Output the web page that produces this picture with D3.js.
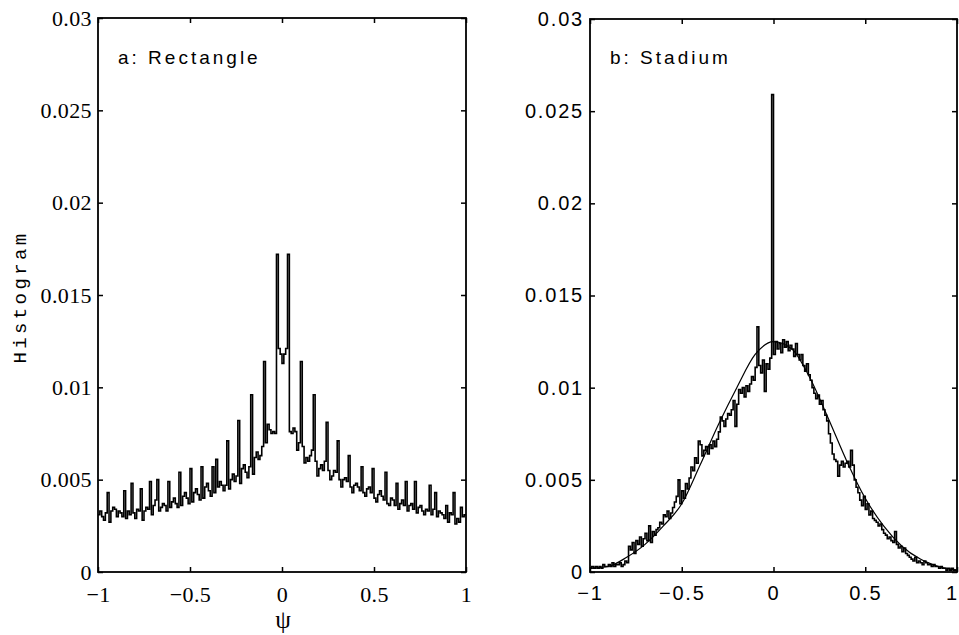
<!DOCTYPE html>
<html>
<head>
<meta charset="utf-8">
<script src="https://cdn.jsdelivr.net/npm/d3@7"></script>
<style>
  body { margin: 0; background: #fff; }
  svg { display: block; }
</style>
</head>
<body>
<script>
// histogram bins are 0.01 wide, from -1 to 1
let binWidth = 0.01;
let binStart = -1;

let rectHist = [
  0.0031,0.0033,0.0030,0.0028,0.0032,0.0043,0.0027,0.0033,0.0035,0.0034,
  0.0030,0.0033,0.0032,0.0030,0.0044,0.0029,0.0033,0.0031,0.0048,0.0032,
  0.0029,0.0034,0.0033,0.0045,0.0028,0.0033,0.0035,0.0034,0.0049,0.0031,
  0.0036,0.0039,0.0050,0.0033,0.0035,0.0037,0.0036,0.0033,0.0049,0.0035,
  0.0038,0.0040,0.0037,0.0035,0.0054,0.0036,0.0041,0.0043,0.0040,0.0037,
  0.0056,0.0038,0.0043,0.0045,0.0042,0.0039,0.0057,0.0040,0.0046,0.0048,
  0.0044,0.0041,0.0057,0.0043,0.0061,0.0046,0.0049,0.0047,0.0044,0.0047,
  0.0071,0.0045,0.0050,0.0053,0.0049,0.0052,0.0082,0.0048,0.0056,0.0058,
  0.0054,0.0051,0.0057,0.0096,0.0053,0.0062,0.0065,0.0061,0.0063,0.0068,
  0.0114,0.0070,0.0080,0.0077,0.0075,0.0076,0.0075,0.0172,0.0121,0.0118,
  0.0113,0.0118,0.0121,0.0172,0.0076,0.0075,0.0078,0.0076,0.0066,0.0070,
  0.0114,0.0068,0.0059,0.0062,0.0060,0.0063,0.0066,0.0096,0.0060,0.0052,
  0.0056,0.0058,0.0055,0.0060,0.0081,0.0055,0.0050,0.0052,0.0055,0.0054,
  0.0071,0.0050,0.0046,0.0050,0.0051,0.0049,0.0063,0.0046,0.0043,0.0047,
  0.0048,0.0046,0.0044,0.0057,0.0043,0.0041,0.0045,0.0046,0.0043,0.0056,
  0.0040,0.0038,0.0042,0.0044,0.0041,0.0039,0.0054,0.0037,0.0036,0.0040,
  0.0039,0.0036,0.0048,0.0034,0.0037,0.0039,0.0036,0.0049,0.0033,0.0036,
  0.0037,0.0034,0.0049,0.0032,0.0035,0.0036,0.0033,0.0031,0.0034,0.0033,
  0.0047,0.0031,0.0034,0.0043,0.0030,0.0033,0.0032,0.0031,0.0029,0.0036,
  0.0027,0.0032,0.0031,0.0043,0.0026,0.0029,0.0027,0.0035,0.0030,0.0031
];

let stadiumHist = [
  0.0002,0.0003,0.0002,0.0003,0.0002,0.0003,0.0002,0.0004,0.0003,0.0003,
  0.0004,0.0003,0.0005,0.0003,0.0004,0.0004,0.0005,0.0003,0.0004,0.0006,
  0.0005,0.0014,0.0012,0.0016,0.0010,0.0017,0.0015,0.0019,0.0014,0.0018,
  0.0021,0.0017,0.0025,0.0016,0.0022,0.0020,0.0023,0.0024,0.0027,0.0026,
  0.0031,0.0030,0.0033,0.0029,0.0032,0.0035,0.0038,0.0041,0.0050,0.0037,
  0.0044,0.0040,0.0048,0.0045,0.0051,0.0057,0.0055,0.0062,0.0059,0.0071,
  0.0069,0.0063,0.0066,0.0068,0.0064,0.0069,0.0067,0.0071,0.0068,0.0072,
  0.0076,0.0084,0.0082,0.0079,0.0083,0.0086,0.0085,0.0088,0.0093,0.0079,
  0.0091,0.0099,0.0097,0.0100,0.0095,0.0101,0.0098,0.0102,0.0106,0.0104,
  0.0111,0.0133,0.0112,0.0108,0.0115,0.0098,0.0113,0.0110,0.0116,0.0259,
  0.0118,0.0125,0.0121,0.0124,0.0119,0.0126,0.0122,0.0125,0.0120,0.0123,
  0.0121,0.0117,0.0124,0.0118,0.0115,0.0118,0.0112,0.0109,0.0113,0.0107,
  0.0104,0.0100,0.0097,0.0094,0.0096,0.0091,0.0093,0.0088,0.0085,0.0082,
  0.0075,0.0070,0.0064,0.0061,0.0060,0.0052,0.0058,0.0060,0.0057,0.0059,
  0.0060,0.0057,0.0066,0.0058,0.0050,0.0046,0.0043,0.0039,0.0036,0.0041,
  0.0034,0.0037,0.0031,0.0033,0.0029,0.0028,0.0027,0.0025,0.0026,0.0023,
  0.0021,0.0020,0.0018,0.0019,0.0017,0.0016,0.0022,0.0015,0.0013,0.0014,
  0.0011,0.0013,0.0010,0.0009,0.0008,0.0007,0.0006,0.0008,0.0005,0.0006,
  0.0005,0.0004,0.0006,0.0005,0.0004,0.0004,0.0003,0.0004,0.0003,0.0003,
  0.0002,0.0003,0.0002,0.0002,0.0001,0.0002,0.0001,0.0002,0.0001,0.0001
];

// smooth reference curve drawn over the stadium histogram
let curveX = [-1,-0.9,-0.8,-0.7,-0.6,-0.5,-0.4,-0.3,-0.2,-0.1,0,0.1,0.2,0.3,0.4,0.5,0.6,0.7,0.8,0.9,1];
let curveY = [0.0002,0.0003,0.0008,0.0015,0.0025,0.0037,0.0058,0.0080,0.0100,0.0118,0.0125,0.0121,0.0105,0.0083,0.0060,0.0040,0.0025,0.0014,0.0007,0.0003,0.0001];

let xTicks = [-1,-0.5,0,0.5,1];
let xTickLabels = ["\u22121","\u22120.5","0","0.5","1"];
let yTicks = [0,0.005,0.01,0.015,0.02,0.025,0.03];
let yTickLabels = ["0","0.005","0.01","0.015","0.02","0.025","0.03"];

let svg = d3.select("body").append("svg")
  .attr("width", 959)
  .attr("height", 635);

let panels = [
  {left: 98, right: 466, top: 18, bottom: 572, title: "a: Rectangle", data: rectHist,
   font: "'Liberation Serif', 'Times New Roman', serif", size: 22, spacing: 0.4},
  {left: 590, right: 957, top: 19, bottom: 572, title: "b: Stadium", data: stadiumHist,
   font: "'Liberation Sans', Arial, sans-serif", size: 20, spacing: 1.8}
];

panels.forEach((p, k) => {
  let x = d3.scaleLinear().domain([-1, 1]).range([p.left, p.right]);
  let y = d3.scaleLinear().domain([0, 0.03]).range([p.bottom, p.top]);
  let g = svg.append("g");

  //staircase histogram
  let pts = p.data.map((v, i) => [binStart + i * binWidth, v]);
  pts.push([1, p.data[p.data.length - 1]]);
  let stairs = d3.line()
    .x(d => x(d[0]))
    .y(d => y(d[1]))
    .curve(d3.curveStepAfter);
  g.append("path")
    .datum(pts)
    .attr("d", stairs)
    .attr("fill", "none")
    .attr("stroke", "#000")
    .attr("stroke-width", 1.6)
    .attr("stroke-linejoin", "miter");

  if (k == 1) {
    let smooth = d3.line()
      .x((d, i) => x(curveX[i]))
      .y(d => y(d))
      .curve(d3.curveMonotoneX);
    g.append("path")
      .datum(curveY)
      .attr("d", smooth)
      .attr("fill", "none")
      .attr("stroke", "#000")
      .attr("stroke-width", 1.2);
  }

  // axes with inward ticks on all four sides
  let bottom = d3.axisBottom(x).tickValues(xTicks)
    .tickFormat((d, i) => xTickLabels[i]).tickSize(-5).tickSizeOuter(0).tickPadding(14);
  let top = d3.axisTop(x).tickValues(xTicks).tickFormat("").tickSize(-5).tickSizeOuter(0);
  let left = d3.axisLeft(y).tickValues(yTicks)
    .tickFormat((d, i) => yTickLabels[i]).tickSize(-5).tickSizeOuter(0).tickPadding(6);
  let right = d3.axisRight(y).tickValues(yTicks).tickFormat("").tickSize(-5).tickSizeOuter(0);

  let axes = [
    g.append("g").attr("transform", `translate(0,${p.bottom})`).call(bottom),
    g.append("g").attr("transform", `translate(0,${p.top})`).call(top),
    g.append("g").attr("transform", `translate(${p.left},0)`).call(left),
    g.append("g").attr("transform", `translate(${p.right},0)`).call(right)
  ];
  axes.forEach(a => {
    a.select(".domain").remove();
    a.selectAll("line").attr("stroke", "#000").attr("stroke-width", 1.5);
    a.selectAll("text")
      .attr("fill", "#000")
      .style("font-family", p.font)
      .style("font-size", p.size + "px")
      .style("letter-spacing", p.spacing + "px");
  });
  // last x label sits against the window edge on the right panel
  if (k == 1) {
    axes[0].selectAll(".tick text").filter(d => d == 1).attr("dx", -5);
  }

  g.append("rect")
    .attr("x", p.left)
    .attr("y", p.top)
    .attr("width", p.right - p.left)
    .attr("height", p.bottom - p.top)
    .attr("fill", "none")
    .attr("stroke", "#000")
    .attr("stroke-width", 1.8);

  g.append("text")
    .attr("x", p.left + 20)
    .attr("y", 64)
    .style("font-family", "'Liberation Sans', Arial, sans-serif")
    .style("font-size", "19px")
    .style("letter-spacing", "3px")
    .text(p.title);
});

// axis titles
svg.append("text")
  .attr("transform", "translate(26,297) rotate(-90)")
  .attr("text-anchor", "middle")
  .style("font-family", "'Liberation Mono', 'Courier New', monospace")
  .style("font-size", "19px")
  .style("letter-spacing", "3.4px")
  .text("Histogram");

svg.append("text")
  .attr("x", 283)
  .attr("y", 628)
  .attr("text-anchor", "middle")
  .style("font-family", "'Liberation Serif', 'Times New Roman', serif")
  .style("font-size", "25px")
  .text("\u03c8");
</script>
</body>
</html>
